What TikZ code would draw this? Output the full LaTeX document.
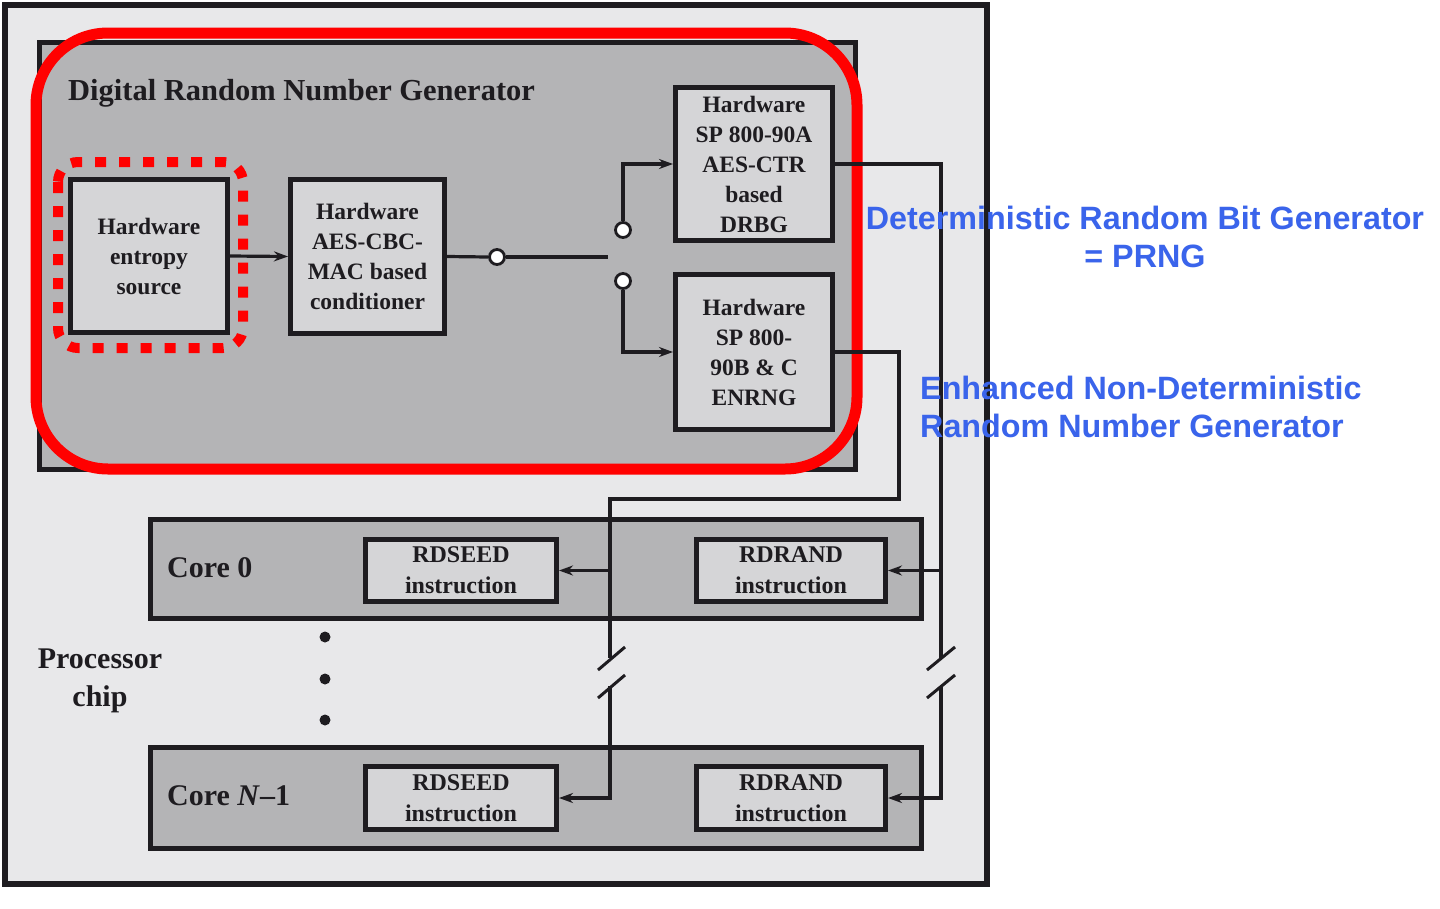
\documentclass[tikz,border=0pt]{standalone}
\usepackage{fontspec}
\setmainfont{Liberation Serif}
\newfontfamily\bluefont{Liberation Sans}
\usetikzlibrary{arrows.meta}
\definecolor{chipfill}{RGB}{232,232,234}
\definecolor{drngfill}{RGB}{180,180,182}
\definecolor{boxfill}{RGB}{213,213,215}
\definecolor{redline}{RGB}{255,0,0}
\definecolor{bluetxt}{RGB}{58,100,235}
\definecolor{ink}{RGB}{30,28,32}
\begin{document}
\begin{tikzpicture}[x=1pt,y=-1pt,
  panel/.style={draw=ink,line width=5pt,inner sep=0pt,rectangle},
  unit/.style={panel,fill=boxfill,align=center,text=ink,font=\fontsize{23.5}{30}\selectfont\bfseries},
  instr/.style={panel,fill=boxfill,align=center,text=ink,font=\fontsize{24}{31}\selectfont\bfseries},
  wire/.style={draw=ink,line width=3.2pt},
  arr/.style={wire,-{Stealth[length=14pt,width=10pt]}},
  port/.style={circle,draw=ink,line width=2.8pt,fill=white,inner sep=0pt,minimum size=15pt},
  bigtxt/.style={text=ink,inner sep=0pt,font=\fontsize{30}{38}\selectfont\bfseries},
  note/.style={text=bluetxt,inner sep=0pt,font=\bluefont\fontsize{32.3}{38}\selectfont\bfseries},
  tick/.style={draw=ink,line width=3pt}
  ]
\useasboundingbox (0,0) rectangle (1440,908);
\fill[white] (0,0) rectangle (1440,908);
% processor chip
\node[panel,line width=6pt,fill=chipfill,minimum width=982pt,minimum height=879pt] (chip) at (496,444.5) {};
% DRNG
\node[panel,fill=drngfill,minimum width=816pt,minimum height=427pt] (drng) at (447.5,256) {};
\node[bigtxt,anchor=west,font=\fontsize{30.5}{38}\selectfont\bfseries] (title) at (68,93) {Digital Random Number Generator};
% red highlights
\draw[redline,line width=11pt,rounded corners=72pt] (36,33) rectangle (857,469);
% units
\node[unit,minimum width=157pt,minimum height=153pt] (ent) at (149,256) {Hardware\\entropy\\source};
\draw[redline,line width=10pt,dash pattern=on 11pt off 13pt,rounded corners=20pt] (58,162) rectangle (243,348);
\node[unit,minimum width=154pt,minimum height=154pt] (cond) at (367.5,256.5) {Hardware\\AES-CBC-\\MAC based\\conditioner};
\node[unit,minimum width=157pt,minimum height=153pt] (drbg) at (754,164) {Hardware\\SP 800-90A\\AES-CTR\\based\\DRBG};
\node[unit,minimum width=157pt,minimum height=155pt] (enrng) at (754,352) {Hardware\\SP 800-\\90B \& C\\ENRNG};
% switch
\node[port] (p0) at (497,257) {};
\node[port] (p1) at (623,230) {};
\node[port] (p2) at (623,281) {};
\coordinate (swend) at (608,257);
\draw[arr] (ent.east) -- (cond.west);
\draw[wire] (cond.east) -- (p0.west);
\draw[wire] (p0.east) -- (swend);
\draw[arr] (p1.north) |- (drbg.west);
\draw[arr] (p2.south) |- (enrng.west);
% cores
\node[panel,fill=drngfill,minimum width=771pt,minimum height=99pt] (core0) at (536,569) {};
\node[panel,fill=drngfill,minimum width=771pt,minimum height=101pt] (coreN) at (536,798) {};
\node[bigtxt,anchor=west] (c0lab) at (167,568) {Core 0};
\node[bigtxt,anchor=west] (cNlab) at (167,796) {Core \textit{N}\textendash1};
\node[instr,minimum width=191pt,minimum height=62pt] (seed0) at (461,570.5) {RDSEED\\instruction};
\node[instr,minimum width=189pt,minimum height=62pt] (rand0) at (791,570.5) {RDRAND\\instruction};
\node[instr,minimum width=191pt,minimum height=63pt] (seedN) at (461,798) {RDSEED\\instruction};
\node[instr,minimum width=189pt,minimum height=63pt] (randN) at (791,798) {RDRAND\\instruction};
% ENRNG bus
\coordinate (e2) at (899,499);
\coordinate (e3) at (610,499);
\coordinate (b1) at (610,658);
\coordinate (b2) at (610,686);
\draw[wire] (enrng.east) -| (e2) -- (e3) -- (b1);
\draw[arr] (e3 |- seed0.east) -- (seed0.east);
\draw[arr] (b2) |- (seedN.east);
% DRBG bus
\coordinate (b3) at (941,658);
\coordinate (b4) at (941,686);
\draw[wire] (drbg.east) -| (b3);
\draw[arr] (b3 |- rand0.east) -- (rand0.east);
\draw[arr] (b4) |- (randN.east);
% break marks
\draw[tick] (598,670) -- (625,647);
\draw[tick] (598,698) -- (625,675);
\draw[tick] (927,670) -- (955,647);
\draw[tick] (927,698) -- (955,675);
% dots
\fill[ink] (325,637) circle (5.5);
\fill[ink] (325,679) circle (5.5);
\fill[ink] (325,720) circle (5.5);
\node[bigtxt,align=center] (proc) at (100,681) {Processor\\chip};
% annotations
\node[note,align=center] (dnote) at (1145,237) {Deterministic Random Bit Generator\\= PRNG};
\node[note,align=left,anchor=west] (enote) at (920,407) {Enhanced Non-Deterministic\\Random Number Generator};
\end{tikzpicture}
\end{document}
